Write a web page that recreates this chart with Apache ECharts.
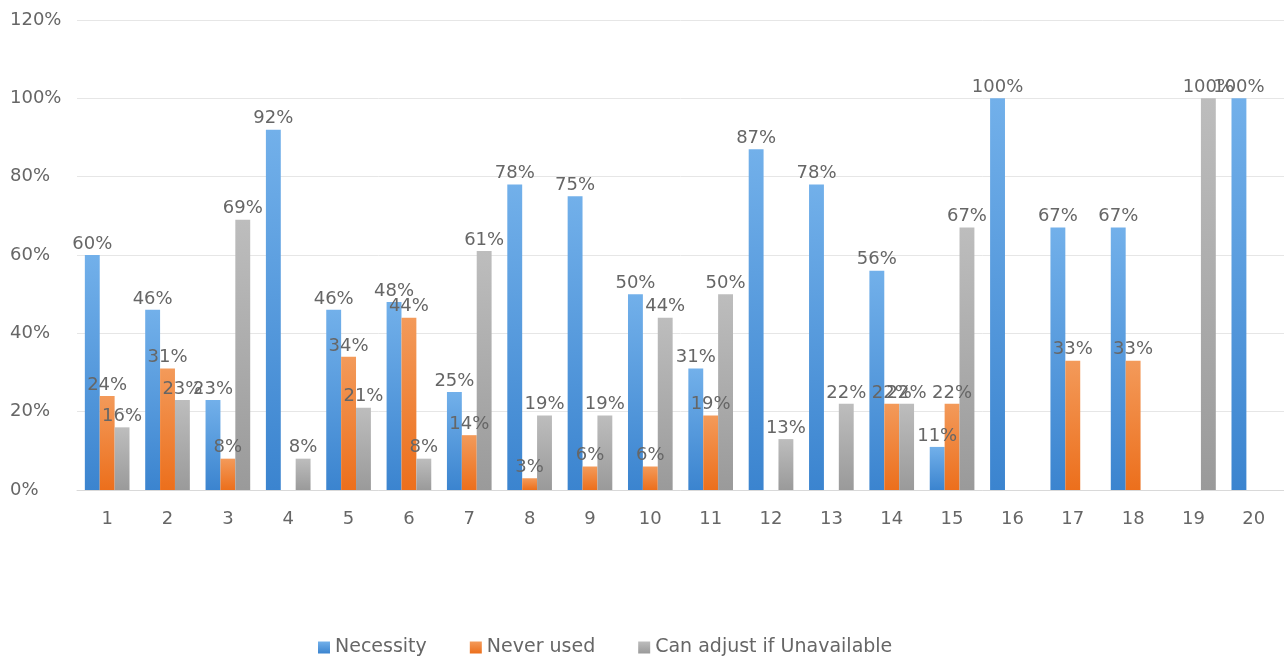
<!DOCTYPE html>
<html>
<head>
<meta charset="utf-8">
<script src="https://cdn.jsdelivr.net/npm/echarts@6/dist/echarts.min.js"></script>
<style>
html,body{margin:0;padding:0;background:#fff;}
#main{width:1284px;height:657px;}
</style>
</head>
<body>
<div id="main"></div>
<script>
var categories = ['1','2','3','4','5','6','7','8','9','10','11','12','13','14','15','16','17','18','19','20'];
var necessity = [60,46,23,92,46,48,25,78,75,50,31,87,78,56,11,100,67,67,0,100];
var neverUsed = [24,31,8,0,34,44,14,3,6,6,19,0,0,22,22,0,33,33,0,0];
var canAdjust = [16,23,69,8,21,8,61,19,19,44,50,13,22,22,67,0,0,0,100,0];
var seriesNames = ['Necessity','Never used','Can adjust if Unavailable'];

var txtFont = 'DejaVu Sans';
var txtColor = '#666666';

function grad(top, bottom) {
    return new echarts.graphic.LinearGradient(0, 0, 0, 1, [
        {offset: 0, color: top},
        {offset: 1, color: bottom}
    ]);
}
var labelOpt = {
    show: true,
    position: 'top',
    distance: 2,
    color: txtColor,
    fontSize: 18,
    fontFamily: txtFont,
    formatter: function (p) { return p.value ? p.value + '%' : ''; }
};
function makeSeries(name, data, c1, c2) {
    return {
        name: name,
        type: 'bar',
        data: data,
        barGap: '0%',
        barCategoryGap: '26%',
        itemStyle: {color: grad(c1, c2)},
        label: labelOpt
    };
}

var myChart = echarts.init(document.getElementById('main'));
var option = {
    animation: false,
    color: ['#4a90d9', '#ed7d31', '#a5a5a5'],
    grid: {left: 77, top: 20, width: 1222, height: 470},
    legend: {
        bottom: -5,
        left: 313,
        itemWidth: 12,
        itemHeight: 12,
        itemGap: 43,
        icon: 'rect',
        textStyle: {color: txtColor, fontSize: 19, fontFamily: txtFont},
        data: seriesNames
    },
    xAxis: {
        type: 'category',
        data: categories,
        axisTick: {show: false},
        axisLine: {lineStyle: {color: '#d9d9d9'}},
        axisLabel: {color: txtColor, fontSize: 18, fontFamily: txtFont, margin: 20}
    },
    yAxis: {
        type: 'value',
        min: 0,
        max: 120,
        interval: 20,
        axisLabel: {
            color: txtColor, fontSize: 18, fontFamily: txtFont,
            align: 'left', margin: 67,
            formatter: '{value}%'
        },
        splitLine: {lineStyle: {color: '#e6e6e6'}}
    },
    series: [
        makeSeries(seriesNames[0], necessity, '#72b0ea', '#3b84cf'),
        makeSeries(seriesNames[1], neverUsed, '#f39a5a', '#ec6f1c'),
        makeSeries(seriesNames[2], canAdjust, '#bdbdbd', '#9a9a9a')
    ]
};
myChart.setOption(option);
</script>
</body>
</html>
